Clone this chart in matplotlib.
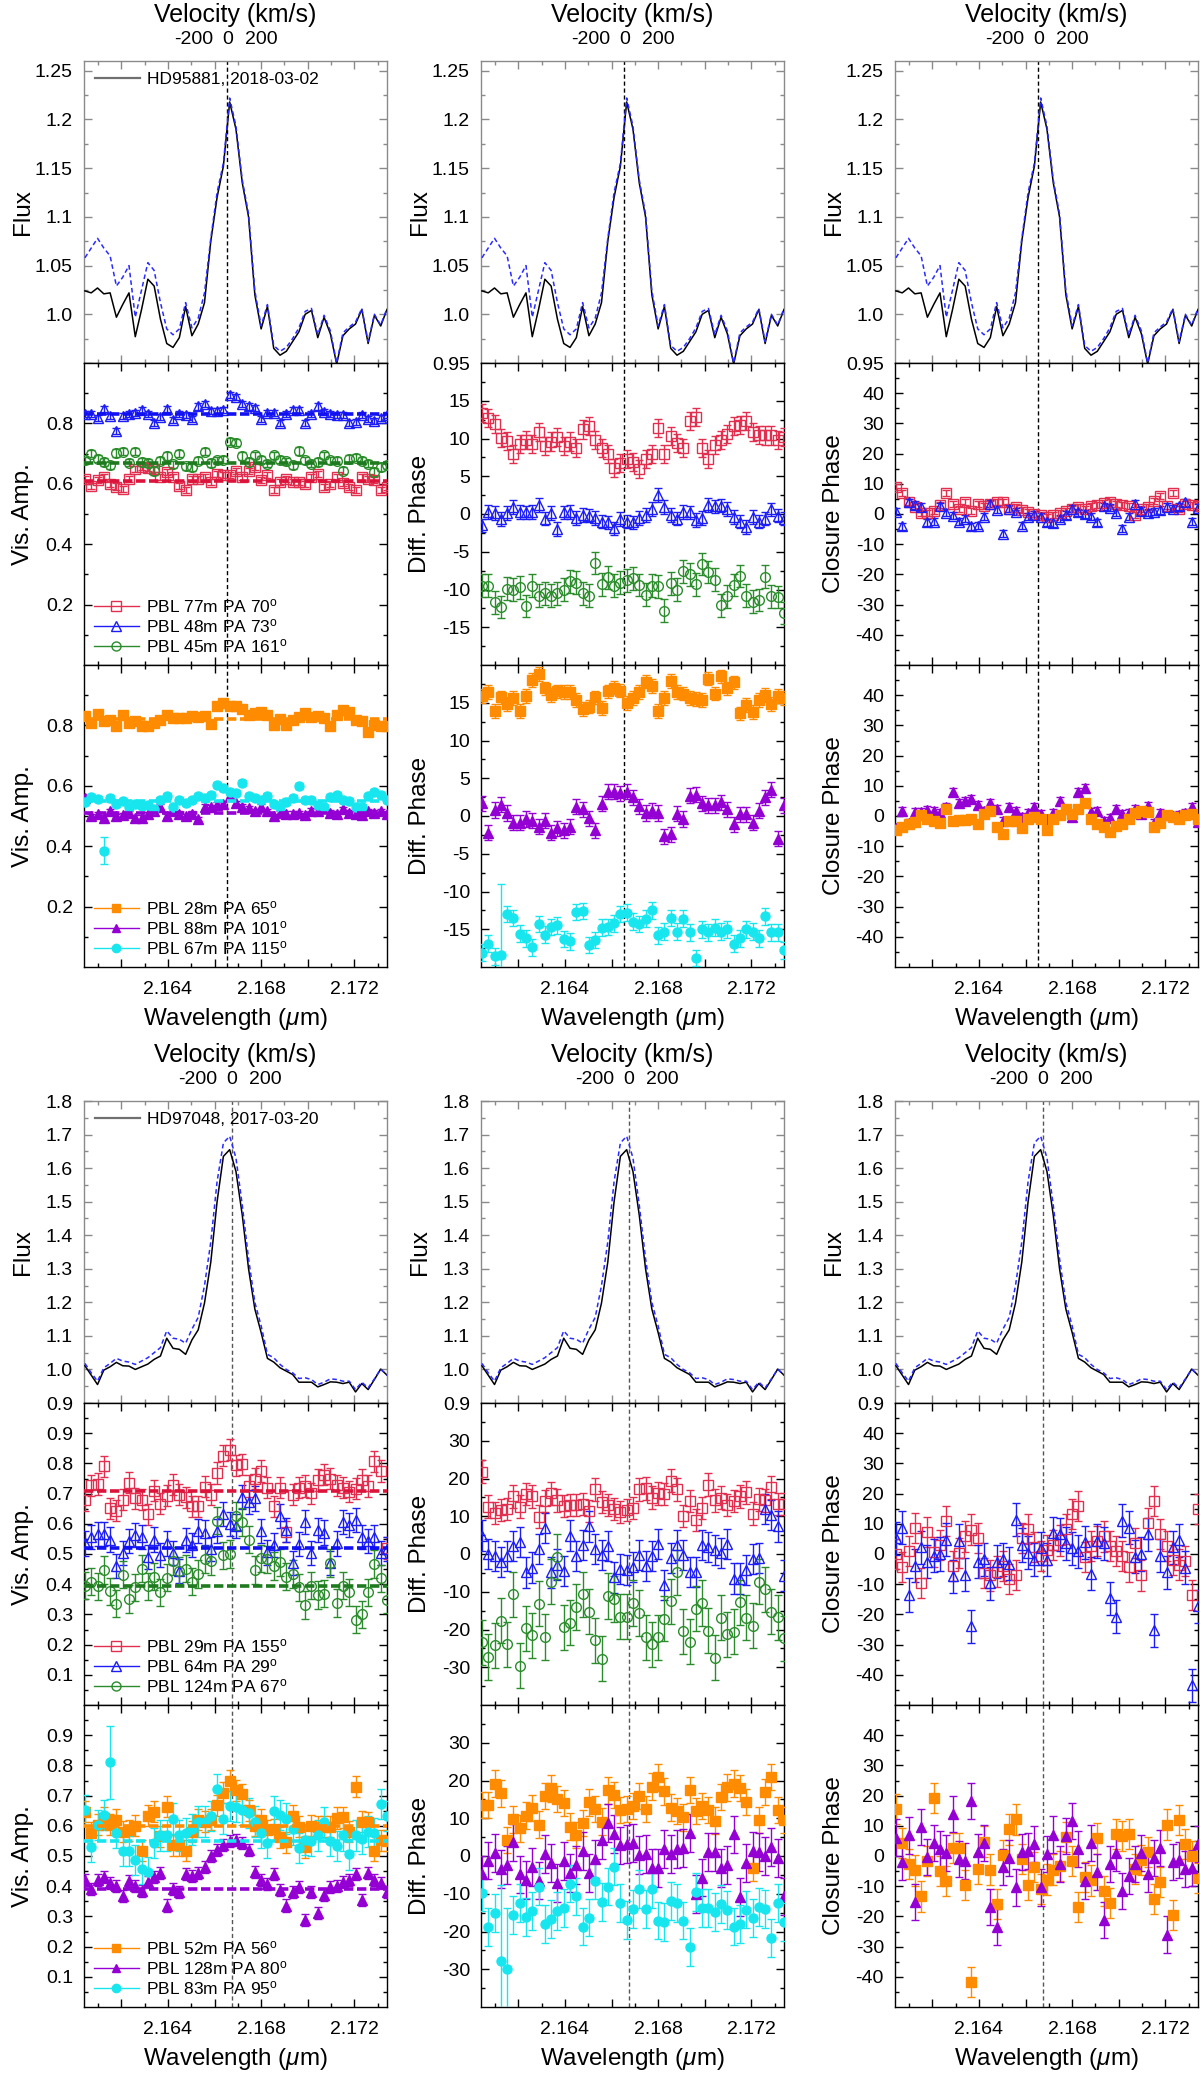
import numpy as np
import matplotlib
matplotlib.use('Agg')
import matplotlib.pyplot as plt
from matplotlib.lines import Line2D

plt.rcParams['font.family'] = ['Liberation Sans', 'DejaVu Sans']
plt.rcParams['mathtext.fontset'] = 'custom'
plt.rcParams['mathtext.rm'] = 'Liberation Sans'
plt.rcParams['mathtext.it'] = 'Liberation Sans:italic'
plt.rcParams['axes.unicode_minus'] = False

C_KMS = 299792.458
N = 49
wave = np.linspace(2.16044, 2.17340, N)   # spectral channels (micron)
LAM0_TOP = 2.16655
LAM0_BOT = 2.16673

# ---------------- HD95881 (top block) ----------------
flux_top_obs = [1.024,1.022,1.027,1.021,1.022,0.997,1.010,1.022,0.977,1.005,
                1.036,1.029,0.995,0.970,0.966,0.976,1.008,0.978,0.990,1.012,
                1.075,1.120,1.152,1.218,1.190,1.135,1.100,1.020,0.985,1.008,
                0.965,0.958,0.962,0.972,0.982,1.000,1.004,0.976,0.997,0.980,
                0.949,0.978,0.985,0.990,1.005,0.970,0.999,0.988,1.005]
flux_top_mod = [1.058,1.068,1.078,1.068,1.060,1.029,1.038,1.050,0.997,1.025,
                1.053,1.045,1.012,0.985,0.979,0.985,1.012,0.986,0.996,1.022,
                1.078,1.125,1.155,1.222,1.193,1.138,1.103,1.024,0.988,1.010,
                0.968,0.962,0.966,0.975,0.986,1.003,1.006,0.979,0.999,0.983,
                0.950,0.981,0.987,0.992,1.006,0.972,1.000,0.989,1.006]

vis_top_red = [0.617,0.594,0.611,0.622,0.600,0.591,0.583,0.617,0.650,0.656,
               0.653,0.650,0.622,0.639,0.622,0.594,0.578,0.617,0.617,0.622,
               0.606,0.633,0.630,0.628,0.642,0.622,0.641,0.656,0.611,0.630,
               0.578,0.606,0.617,0.606,0.606,0.600,0.622,0.633,0.589,0.598,
               0.622,0.602,0.589,0.580,0.622,0.617,0.613,0.580,0.589]
vis_top_blue = [0.831,0.831,0.817,0.847,0.824,0.776,0.824,0.831,0.836,0.844,
                0.831,0.800,0.822,0.847,0.811,0.831,0.828,0.816,0.856,0.863,
                0.842,0.842,0.844,0.894,0.889,0.863,0.856,0.850,0.814,0.833,
                0.836,0.802,0.831,0.844,0.844,0.802,0.831,0.856,0.839,0.831,
                0.828,0.828,0.802,0.806,0.828,0.813,0.809,0.817,0.828]
vis_top_green = [0.678,0.700,0.683,0.672,0.661,0.702,0.706,0.670,0.706,0.672,
                 0.669,0.642,0.676,0.692,0.664,0.700,0.658,0.656,0.676,0.706,
                 0.669,0.678,0.680,0.739,0.736,0.692,0.672,0.694,0.680,0.667,
                 0.694,0.680,0.674,0.661,0.709,0.678,0.667,0.672,0.694,0.678,
                 0.676,0.644,0.683,0.687,0.676,0.667,0.639,0.656,0.661]
vis_top_orange = [0.832,0.808,0.839,0.813,0.817,0.797,0.835,0.808,0.813,0.797,
                  0.799,0.808,0.819,0.835,0.824,0.824,0.824,0.830,0.828,0.832,
                  0.806,0.863,0.874,0.863,0.863,0.854,0.835,0.841,0.844,0.835,
                  0.802,0.821,0.802,0.819,0.828,0.841,0.828,0.830,0.824,0.799,
                  0.835,0.852,0.843,0.819,0.813,0.777,0.802,0.797,0.799]
vis_top_purple = [0.560,0.500,0.506,0.495,0.515,0.500,0.503,0.510,0.495,0.495,
                  0.506,0.515,0.531,0.500,0.515,0.507,0.500,0.507,0.490,0.531,
                  0.530,0.537,0.540,0.565,0.543,0.531,0.525,0.515,0.531,0.515,
                  0.500,0.510,0.507,0.507,0.510,0.503,0.518,0.515,0.525,0.511,
                  0.507,0.522,0.511,0.507,0.503,0.515,0.511,0.515,0.507]
vis_top_cyan = [0.548,0.562,0.556,0.385,0.558,0.539,0.550,0.531,0.540,0.533,
                0.536,0.523,0.553,0.565,0.531,0.553,0.544,0.553,0.565,0.559,
                0.570,0.603,0.592,0.580,0.575,0.609,0.565,0.559,0.553,0.567,
                0.540,0.531,0.548,0.559,0.598,0.553,0.553,0.536,0.531,0.562,
                0.570,0.553,0.550,0.531,0.531,0.565,0.580,0.570,0.553]

dp_top_red = [13.4,12.7,11.9,10.1,9.7,8.0,9.3,9.8,9.3,10.9,
              9.0,9.6,10.2,9.0,9.6,8.8,11.2,11.6,9.8,8.7,
              8.0,6.1,6.8,7.3,6.9,6.0,7.3,8.0,11.4,8.0,
              10.3,9.4,8.7,12.3,12.8,8.8,7.3,9.1,9.8,10.6,
              11.6,11.8,12.3,10.9,10.5,10.4,10.4,9.8,10.2]
dp_top_blue = [-1.5,0.3,0.1,-0.7,0.1,0.9,0.3,0.2,0.3,1.2,
               -0.6,0.1,-2.0,0.2,0.3,-0.5,-0.1,-0.2,-0.5,-1.0,
               -1.1,-1.9,-0.7,-1.0,-1.1,-0.5,-0.1,0.7,2.5,0.9,
               -0.1,-0.6,0.3,0.2,-0.8,-0.5,1.2,1.0,1.1,0.7,
               -0.4,-1.0,-1.7,-0.4,-1.0,-0.6,0.6,-0.2,-0.6]
dp_top_green = [-9.5,-9.5,-11.7,-12.3,-9.9,-10.0,-9.7,-12.2,-9.5,-10.8,
                -10.5,-10.8,-10.5,-10.0,-8.9,-9.1,-10.5,-10.8,-6.5,-9.3,
                -8.4,-9.5,-9.1,-8.8,-8.5,-9.4,-10.7,-9.5,-9.6,-12.8,
                -9.2,-10.0,-7.6,-8.0,-9.3,-6.6,-7.7,-8.7,-12.1,-10.9,
                -9.4,-8.2,-10.8,-11.6,-11.4,-8.3,-10.9,-11.0,-13.1]
dp_top_orange = [15.9,16.4,13.9,15.7,14.8,15.6,13.9,15.9,18.0,18.8,
                 16.9,16.0,16.5,16.4,16.4,15.4,14.2,14.5,15.7,14.3,
                 16.5,17.0,16.6,15.0,15.6,16.4,17.8,17.2,13.9,15.6,
                 17.9,16.4,16.2,15.6,15.5,15.4,18.2,16.2,18.5,16.9,
                 17.7,13.6,14.7,13.8,15.4,16.0,14.8,15.9,15.6]
dp_top_purple = [1.7,-2.2,0.8,1.5,0.4,-0.9,-0.9,-0.4,-0.6,-1.4,
                 -0.6,-2.2,-1.6,-1.9,-1.4,1.2,0.9,-0.3,-1.9,1.6,
                 3.2,3.2,3.0,3.2,2.5,1.3,0.4,0.7,0.4,-2.7,
                 -2.4,0.3,-0.4,2.7,2.8,1.7,1.4,1.4,1.8,0.9,
                 -1.1,0.2,0.2,-0.9,0.7,2.5,3.5,-3.0,1.4]
dp_top_cyan = [-18.1,-16.9,-18.6,-18.4,-13.0,-13.5,-15.6,-16.2,-17.4,-14.3,
               -15.7,-14.7,-14.5,-16.3,-16.6,-12.7,-12.6,-17.1,-16.4,-14.8,
               -14.7,-14.2,-13.0,-12.8,-14.0,-14.3,-13.6,-12.5,-15.8,-15.3,
               -13.5,-15.3,-13.6,-15.4,-18.8,-15.0,-15.4,-14.8,-15.3,-15.0,
               -16.9,-16.2,-15.0,-15.3,-16.2,-13.3,-15.4,-15.4,-17.8]

cp_top_red = [8.8,6.8,4.0,2.3,0.4,0.4,1.0,3.0,6.8,3.4,
              1.7,4.0,1.0,3.4,2.6,3.4,3.9,3.9,1.7,2.3,
              1.3,0.8,0.0,-0.3,-0.9,-0.3,0.4,1.0,1.7,2.3,
              1.7,2.6,3.0,3.6,3.9,3.4,3.0,2.6,-0.3,1.7,
              2.3,4.3,5.9,2.6,6.8,1.7,3.4,3.0,2.6]
cp_top_blue = [0.8,-4.1,3.9,3.0,2.3,-2.8,-2.6,2.6,0.4,-0.5,
               -2.6,-1.5,-4.1,-3.9,-0.9,3.4,1.4,-6.5,1.7,0.8,
               -3.9,-0.9,-0.3,-0.9,-2.8,-3.1,-1.5,-0.3,1.7,0.6,
               0.0,-0.9,-2.8,2.6,2.1,0.4,-4.9,-0.9,3.4,1.0,
               0.4,0.8,1.3,2.3,1.7,2.6,3.9,-2.6,2.1]
cp_top_purple = [-4.1,1.7,-2.2,1.4,1.4,1.9,1.7,1.0,3.0,8.1,
                 4.3,4.9,5.5,3.6,1.7,4.3,2.3,-1.5,3.0,1.7,
                 -0.3,1.0,3.0,0.6,-0.9,1.0,4.9,2.3,-0.3,7.9,
                 9.4,1.4,1.7,-1.5,-0.6,2.3,0.6,1.0,2.3,0.6,
                 3.2,-2.2,1.0,0.4,0.1,0.4,1.0,3.0,-1.9]
cp_top_orange = [-4.8,-3.5,-2.6,-1.9,0.4,-0.9,-1.5,-2.2,2.3,-1.5,
                 -1.3,-1.2,-0.9,-2.5,0.6,1.7,-3.5,-5.8,-1.5,-1.5,
                 -4.1,-0.9,-0.3,-0.9,-4.8,-0.9,0.4,2.3,0.6,2.3,
                 4.3,-0.9,-2.8,-3.5,-5.4,-3.2,-2.8,-0.9,1.0,1.7,
                 1.3,-3.5,-2.2,0.4,-0.3,-0.9,0.4,0.6,-0.9]

# ---------------- HD97048 (bottom block) ----------------
flux_bot_obs = [1.011,0.983,0.955,0.998,1.008,1.021,1.011,1.010,1.000,1.008,
                1.016,1.030,1.040,1.093,1.063,1.060,1.045,1.088,1.118,1.198,
                1.320,1.500,1.635,1.655,1.590,1.460,1.300,1.180,1.110,1.033,
                1.022,1.005,0.995,0.985,0.962,0.962,0.962,0.948,0.955,0.963,
                0.962,0.958,0.962,0.933,0.958,0.940,0.970,1.001,0.983]
flux_bot_mod = [1.018,0.990,0.965,1.005,1.018,1.033,1.025,1.022,1.015,1.025,
                1.035,1.050,1.065,1.115,1.093,1.090,1.078,1.120,1.155,1.250,
                1.380,1.560,1.675,1.695,1.630,1.490,1.330,1.200,1.130,1.045,
                1.035,1.015,1.000,0.990,0.973,0.975,0.970,0.955,0.962,0.972,
                0.970,0.965,0.965,0.940,0.962,0.945,0.972,1.001,0.983]

vis_bot_red = [0.678,0.727,0.732,0.791,0.652,0.643,0.680,0.736,0.684,0.680,
               0.632,0.710,0.667,0.693,0.729,0.697,0.688,0.658,0.658,0.723,
               0.697,0.768,0.826,0.846,0.794,0.797,0.725,0.749,0.775,0.719,
               0.658,0.720,0.574,0.697,0.719,0.725,0.701,0.745,0.762,0.749,
               0.727,0.719,0.706,0.716,0.745,0.725,0.807,0.775,0.520]
vis_bot_blue = [0.535,0.555,0.567,0.567,0.548,0.460,0.503,0.542,0.564,0.555,
                0.490,0.548,0.496,0.535,0.503,0.445,0.545,0.529,0.577,0.571,
                0.516,0.577,0.632,0.600,0.594,0.688,0.671,0.684,0.577,0.505,
                0.529,0.626,0.580,0.470,0.533,0.606,0.503,0.580,0.571,0.470,
                0.535,0.606,0.597,0.613,0.555,0.542,0.555,0.503,0.516]
vis_bot_green = [0.395,0.408,0.393,0.447,0.377,0.335,0.432,0.351,0.390,0.451,
                 0.393,0.425,0.373,0.422,0.477,0.445,0.451,0.408,0.434,0.483,
                 0.477,0.610,0.496,0.500,0.626,0.606,0.548,0.447,0.486,0.483,
                 0.460,0.473,0.425,0.434,0.390,0.331,0.395,0.364,0.369,0.470,
                 0.338,0.395,0.373,0.283,0.300,0.373,0.467,0.419,0.348]
vis_bot_orange = [0.646,0.577,0.603,0.626,0.603,0.620,0.581,0.585,0.600,0.517,
                  0.633,0.646,0.565,0.663,0.536,0.536,0.517,0.581,0.620,0.614,
                  0.620,0.668,0.710,0.749,0.717,0.704,0.652,0.600,0.620,0.585,
                  0.588,0.562,0.546,0.633,0.597,0.530,0.600,0.597,0.597,0.597,
                  0.626,0.628,0.581,0.730,0.614,0.612,0.517,0.552,0.550]
vis_bot_purple = [0.420,0.390,0.420,0.430,0.410,0.400,0.368,0.417,0.400,0.384,
                  0.413,0.430,0.443,0.336,0.390,0.381,0.440,0.433,0.443,0.465,
                  0.500,0.520,0.536,0.549,0.552,0.543,0.520,0.448,0.420,0.407,
                  0.440,0.388,0.336,0.381,0.397,0.289,0.381,0.311,0.371,0.397,
                  0.400,0.413,0.422,0.440,0.355,0.443,0.420,0.410,0.381]
vis_bot_cyan = [0.652,0.530,0.603,0.636,0.810,0.577,0.517,0.517,0.487,0.456,
                0.446,0.543,0.568,0.568,0.624,0.568,0.577,0.588,0.614,0.614,
                0.633,0.723,0.624,0.665,0.662,0.652,0.642,0.614,0.577,0.543,
                0.650,0.636,0.624,0.588,0.526,0.552,0.549,0.568,0.611,0.549,
                0.534,0.568,0.505,0.568,0.555,0.581,0.577,0.672,0.633]

dp_bot_red = [21.8,12.5,10.9,11.7,11.9,15.3,12.5,15.9,15.3,9.9,
              14.0,16.1,14.2,12.7,13.0,13.0,13.2,11.4,17.1,13.8,
              13.0,11.9,11.1,11.7,12.2,17.1,17.4,14.9,16.1,15.9,
              19.4,17.1,10.1,14.0,9.0,12.2,18.4,14.2,14.9,13.0,
              14.0,15.3,16.3,10.7,14.5,14.2,17.7,13.2,13.2]
dp_bot_blue = [4.9,0.0,-0.5,-2.1,-0.5,2.1,3.1,-4.9,-3.6,1.4,
               6.8,-4.9,-2.8,-4.5,4.9,-0.5,2.3,7.3,1.4,-0.3,
               2.1,-6.2,-3.9,-4.2,-3.4,-0.3,-3.1,-0.5,2.6,-8.3,
               -1.0,2.3,-0.3,-4.7,-4.7,2.4,1.8,1.0,0.3,2.6,
               -6.5,-6.5,-4.2,-1.4,-1.0,11.9,10.4,7.3,-5.7]
dp_bot_green = [-23.4,-27.3,-24.2,-17.7,-23.9,-10.7,-29.6,-19.7,-21.5,-13.2,
                -22.0,-7.3,-0.7,-19.4,-18.2,-14.0,-10.7,-15.3,-22.9,-27.7,
                -11.1,-11.9,-16.6,-16.6,-13.0,-15.6,-22.1,-23.9,-22.1,-17.1,
                -12.5,-4.9,-20.5,-23.2,-14.5,-13.0,-20.3,-27.5,-16.9,-21.3,
                -20.6,-12.8,-16.9,-19.0,-7.3,-9.4,-15.3,-16.8,-22.3]
dp_bot_orange = [13.5,13.5,19.2,16.6,4.2,9.7,7.3,10.7,12.7,8.3,
                 15.9,17.9,15.1,14.0,7.8,5.5,8.8,14.2,12.5,9.1,
                 17.4,16.1,12.2,12.5,13.2,15.9,12.5,18.4,20.8,17.1,
                 12.8,11.9,10.2,17.5,11.9,13.2,12.2,9.4,15.6,18.2,
                 19.2,18.0,14.3,-3.1,9.6,16.9,21.0,12.2,9.6]
dp_bot_purple = [-4.9,-1.2,0.8,-3.5,-2.3,3.6,-4.9,-6.4,-2.9,-6.5,
                 0.5,-1.9,-7.1,-1.4,-4.5,-2.4,1.4,-4.5,-0.8,4.2,
                 8.8,5.9,2.8,3.1,3.4,0.3,0.5,-3.1,-3.1,1.9,
                 0.5,1.8,2.1,6.0,-10.1,-5.7,1.0,1.0,-3.1,-2.4,
                 5.7,-10.9,-1.8,1.4,1.0,0.0,2.4,-0.5,-10.7]
dp_bot_cyan = [-9.7,-18.9,-15.1,-27.7,-29.9,-15.6,-12.5,-16.1,-14.5,-8.1,
               -18.0,-16.6,-14.5,-13.8,-7.3,-10.7,-18.7,-16.3,-6.5,-12.2,
               -8.1,-2.8,-12.5,-16.9,-14.0,-8.8,-14.0,-8.8,-17.1,-17.5,
               -11.9,-12.5,-17.1,-24.1,-9.5,-13.8,-13.8,-14.9,-12.7,-14.3,
               -18.7,-18.0,-14.2,-16.4,-13.5,-14.0,-21.8,-12.5,-17.5]

cp_bot_red = [0.0,-4.3,0.9,8.7,-9.7,7.4,0.6,3.0,10.8,-3.9,
              0.3,5.8,8.1,5.2,-6.2,-7.1,-5.8,-3.9,-8.2,-6.9,
              5.2,8.2,2.2,-0.6,1.3,2.9,4.5,8.2,13.2,16.0,
              -1.0,2.6,4.3,5.8,2.6,1.0,-0.6,-4.3,3.6,-7.1,
              10.1,17.5,6.5,2.6,-1.9,-3.5,-2.2,-13.6,14.9]
cp_bot_blue = [5.2,8.7,-13.6,-3.9,2.2,-2.6,-0.6,0.0,4.8,-7.4,
               4.3,-6.9,-24.0,-2.6,-1.7,-9.7,-2.6,-1.7,-3.2,11.3,
               3.0,0.4,-1.9,1.9,-1.9,6.9,6.5,3.5,1.9,0.9,
               3.9,-6.5,4.3,3.5,-14.7,-20.8,11.0,8.7,-0.9,0.0,
               6.5,-25.3,-0.6,-6.1,2.2,4.5,-4.5,-43.5,-17.3]
cp_bot_orange = [15.6,4.2,-2.6,-4.8,-13.4,-1.7,19.1,-4.9,-8.4,2.6,
                 2.6,-9.5,-41.6,-4.2,4.8,-4.5,-15.8,0.3,8.8,12.1,
                 -1.0,-9.5,-3.6,-10.8,-7.8,-4.5,-3.2,6.2,-1.7,-16.9,
                 -6.9,-8.1,5.8,-11.7,-15.6,7.4,6.5,7.4,-4.3,-1.3,
                 1.3,-14.3,-8.7,10.4,-19.5,11.9,3.9,0.0,-7.4]
cp_bot_purple = [6.1,-1.9,6.8,-15.2,9.5,-0.4,4.2,2.2,0.9,13.9,
                 -0.9,-1.7,18.2,1.3,4.2,-16.9,-23.4,-3.6,-0.6,-10.4,
                 1.3,1.6,3.9,-10.4,0.6,7.1,-2.6,6.5,11.7,2.2,
                 -8.4,4.2,-5.2,-21.2,-2.6,0.9,-11.7,-6.5,-2.6,0.9,
                 -5.8,-0.6,2.6,-26.0,-1.9,-1.3,-4.3,-3.9,3.9]

# mean visibility levels (dashed lines)
mean_top = {'red': 0.61, 'blue': 0.83, 'green': 0.67, 'orange': 0.82, 'purple': 0.51, 'cyan': 0.55}
mean_bot = {'red': 0.71, 'blue': 0.52, 'green': 0.395, 'orange': 0.60, 'purple': 0.39, 'cyan': 0.55}

legend_top2 = ['PBL 77m PA 70', 'PBL 48m PA 73', 'PBL 45m PA 161']
legend_top3 = ['PBL 28m PA 65', 'PBL 88m PA 101', 'PBL 67m PA 115']
legend_bot2 = ['PBL 29m PA 155', 'PBL 64m PA 29', 'PBL 124m PA 67']
legend_bot3 = ['PBL 52m PA 56', 'PBL 128m PA 80', 'PBL 83m PA 95']

def err(base, overrides=None):
    e = np.full(N, float(base))
    if overrides:
        for k, v in overrides.items():
            e[k] = v
    return e

COL = {'red': '#e32f4f', 'blue': '#1c1cf5', 'green': '#2b8c2b',
       'orange': '#ff8c00', 'purple': '#9400d3', 'cyan': '#18e6ee'}
MEANCOL = {'red': '#dc143c', 'blue': '#1010f0', 'green': '#1f7a1f',
           'orange': '#ff8c00', 'purple': '#9400d3', 'cyan': '#18e6ee'}
STYLE = {'red': ('s', False, 7), 'blue': ('^', False, 7.5), 'green': ('o', False, 7),
         'orange': ('s', True, 6.5), 'purple': ('^', True, 6.5), 'cyan': ('o', True, 6.5)}

# ---------------- layout ----------------
FIG_W, FIG_H = 1200, 2075
COL_X = [84, 481, 895]
AX_W, AX_H = 303, 302
ROW_TOPS = [[61, 363, 665], [1101, 1403, 1705]]

fig = plt.figure(figsize=(FIG_W / 100, FIG_H / 100), dpi=100)

XLIM = (2.1604, 2.1734)
XMAJOR = [2.162, 2.164, 2.166, 2.168, 2.170, 2.172]
XLABELS = ['', '2.164', '', '2.168', '', '2.172']
XMINOR = [2.161, 2.163, 2.165, 2.167, 2.169, 2.171, 2.173]
TICKFS = 14
LABFS = 17.5
GRAY = '#8a8a8a'


def make_ax(col, top):
    return fig.add_axes([COL_X[col] / FIG_W, 1 - (top + AX_H) / FIG_H,
                         AX_W / FIG_W, AX_H / FIG_H])


def setup(ax, ylim, major, labels, minor, xlabels, ylabel):
    ax.set_xlim(XLIM)
    ax.set_xticks(XMAJOR)
    ax.set_xticklabels(XLABELS if xlabels else [''] * len(XMAJOR))
    ax.set_xticks(XMINOR, minor=True)
    ax.set_ylim(ylim)
    ax.set_yticks(major)
    ax.set_yticklabels(labels)
    ax.set_yticks(minor, minor=True)
    ax.tick_params(which='both', direction='in', top=True, right=True,
                   labelsize=TICKFS)
    ax.tick_params(which='major', length=5.5, width=1.0)
    ax.tick_params(which='minor', length=3, width=1.0)
    ax.tick_params(axis='y', pad=8)
    ax.tick_params(axis='x', pad=10)
    ax.set_ylabel(ylabel, fontsize=LABFS)
    ax.yaxis.set_label_coords(-0.165, 0.5)
    for s in ax.spines.values():
        s.set_linewidth(1.0)
    if xlabels:
        ax.set_xlabel(r'Wavelength ($\mu$m)', fontsize=LABFS, labelpad=6)


def fmt(v):
    s = ('%.2f' % v).rstrip('0')
    if s.endswith('.'):
        s += '0'
    return s


def plot_pts(ax, y, e, key):
    m, filled, ms = STYLE[key]
    c = COL[key]
    ax.errorbar(wave, y, yerr=e, fmt=m, color=c, mec=c,
                mfc=c if filled else 'none', ms=ms, mew=1.0,
                elinewidth=1.0, capsize=3.2, capthick=1.0, zorder=3)


def vis_legend(ax, keys, labels):
    handles = []
    for k in keys:
        m, filled, ms = STYLE[k]
        handles.append(Line2D([], [], color=COL[k], marker=m, ms=ms - 0.5, lw=1.0,
                              mfc=COL[k] if filled else 'none', mec=COL[k]))
    labs = [l + r'$^{\rm o}$' for l in labels]
    ax.legend(handles, labs, loc='lower left', frameon=False, fontsize=12.5,
              handlelength=2.6, handletextpad=0.4, labelspacing=0.12,
              borderaxespad=0.25, borderpad=0.3)


blocks = [
    dict(tops=ROW_TOPS[0], lam0=LAM0_TOP, vline='#000000',
         flux=(flux_top_obs, flux_top_mod), flux_name='HD95881, 2018-03-02',
         flux_ylim=(0.95, 1.26), flux_major=[0.95, 1.0, 1.05, 1.1, 1.15, 1.2, 1.25],
         flux_minor=[0.975, 1.025, 1.075, 1.125, 1.175, 1.225], hide_low_col1=True,
         vis_major=[0.2, 0.4, 0.6, 0.8], vis_minor=[0.1, 0.3, 0.5, 0.7, 0.9],
         vis2=[(vis_top_red, err(0.010), 'red'), (vis_top_blue, err(0.010), 'blue'),
               (vis_top_green, err(0.012), 'green')],
         vis3=[(vis_top_orange, err(0.008), 'orange'), (vis_top_purple, err(0.008), 'purple'),
               (vis_top_cyan, err(0.010, {3: 0.045}), 'cyan')],
         leg2=legend_top2, leg3=legend_top3, means=mean_top,
         dp_ylim=(-20, 20), dp_major=[-15, -10, -5, 0, 5, 10, 15],
         dp_minor=[-17.5, -12.5, -7.5, -2.5, 2.5, 7.5, 12.5, 17.5],
         dp2=[(dp_top_red, err(1.2), 'red'), (dp_top_blue, err(0.9), 'blue'),
              (dp_top_green, err(1.5), 'green')],
         dp3=[(dp_top_orange, err(0.9), 'orange'), (dp_top_purple, err(1.0), 'purple'),
              (dp_top_cyan, err(1.1, {3: 9.4}), 'cyan')],
         cp2=[(cp_top_red, err(1.0), 'red'), (cp_top_blue, err(1.2), 'blue')],
         cp3=[(cp_top_purple, err(1.3), 'purple'), (cp_top_orange, err(1.0), 'orange')]),
    dict(tops=ROW_TOPS[1], lam0=LAM0_BOT, vline='#555555',
         flux=(flux_bot_obs, flux_bot_mod), flux_name='HD97048, 2017-03-20',
         flux_ylim=(0.9, 1.8), flux_major=[0.9, 1.0, 1.1, 1.2, 1.3, 1.4, 1.5, 1.6, 1.7, 1.8],
         flux_minor=[0.95, 1.05, 1.15, 1.25, 1.35, 1.45, 1.55, 1.65, 1.75], hide_low_col1=False,
         vis_major=[0.1, 0.2, 0.3, 0.4, 0.5, 0.6, 0.7, 0.8, 0.9],
         vis_minor=[0.05, 0.15, 0.25, 0.35, 0.45, 0.55, 0.65, 0.75, 0.85, 0.95],
         vis2=[(vis_bot_red, err(0.035), 'red'), (vis_bot_blue, err(0.04), 'blue'),
               (vis_bot_green, err(0.045), 'green')],
         vis3=[(vis_bot_orange, err(0.035), 'orange'), (vis_bot_purple, err(0.02), 'purple'),
               (vis_bot_cyan, err(0.05, {4: 0.12}), 'cyan')],
         leg2=legend_bot2, leg3=legend_bot3, means=mean_bot,
         dp_ylim=(-40, 40), dp_major=[-30, -20, -10, 0, 10, 20, 30],
         dp_minor=[-35, -25, -15, -5, 5, 15, 25, 35],
         dp2=[(dp_bot_red, err(3.0), 'red'), (dp_bot_blue, err(4.0), 'blue'),
              (dp_bot_green, err(6.0), 'green')],
         dp3=[(dp_bot_orange, err(3.5), 'orange'), (dp_bot_purple, err(5.0), 'purple'),
              (dp_bot_cyan, err(5.0, {3: 20.0, 4: 16.0}), 'cyan')],
         cp2=[(cp_bot_red, err(5.0), 'red'), (cp_bot_blue, err(5.5), 'blue')],
         cp3=[(cp_bot_orange, err(5.0), 'orange'), (cp_bot_purple, err(6.0), 'purple')]),
]

CP_MAJOR = [-40, -30, -20, -10, 0, 10, 20, 30, 40]
CP_MINOR = [-45, -35, -25, -15, -5, 5, 15, 25, 35, 45]

for b in blocks:
    lam0 = b['lam0']
    fwd = lambda l, lam0=lam0: (l - lam0) / lam0 * C_KMS
    inv = lambda v, lam0=lam0: lam0 * (1 + v / C_KMS)
    for col in range(3):
        # ---- flux panel ----
        ax = make_ax(col, b['tops'][0])
        labels = [fmt(v) for v in b['flux_major']]
        if col == 0 and b['hide_low_col1']:
            labels[0] = ''
        setup(ax, b['flux_ylim'], b['flux_major'], labels, b['flux_minor'], False, 'Flux')
        for side in ['left', 'right', 'top']:
            ax.spines[side].set_color(GRAY)
        ax.tick_params(which='both', color=GRAY)
        ax.plot(wave, b['flux'][0], color='k', lw=1.1, zorder=3)
        ax.plot(wave, b['flux'][1], color='#2a2aff', lw=1.1, ls=(0, (3, 2)), zorder=4)
        ax.axvline(lam0, color=b['vline'], lw=1.0, ls=(0, (3, 2)), zorder=2)
        if col == 0:
            h = Line2D([], [], color='#707070', lw=1.6)
            ax.legend([h], [b['flux_name']], loc='upper left', frameon=False,
                      fontsize=12.5, handlelength=2.6, handletextpad=0.4,
                      borderaxespad=0.3, borderpad=0.35)
        sec = ax.secondary_xaxis('top', functions=(fwd, inv))
        sec.set_xticks([-200, 0, 200])
        sec.set_xticklabels(['-200', '0', '200'])
        sec.tick_params(length=0, labelsize=TICKFS, pad=9)
        sec.spines['top'].set_visible(False)
        sec.set_xlabel('Velocity (km/s)', fontsize=LABFS + 0.5, labelpad=7)

        # ---- rows 2 and 3 ----
        for r, (vkey, dkey, ckey, lkey) in enumerate([('vis2', 'dp2', 'cp2', 'leg2'),
                                                      ('vis3', 'dp3', 'cp3', 'leg3')]):
            ax = make_ax(col, b['tops'][r + 1])
            xl = (r == 1)
            if col == 0:
                setup(ax, (0, 1.0), b['vis_major'], [fmt(v) for v in b['vis_major']],
                      b['vis_minor'], xl, 'Vis. Amp.')
                for y, e, k in b[vkey]:
                    plot_pts(ax, y, e, k)
                for y, e, k in b[vkey]:
                    ax.axhline(b['means'][k], color=MEANCOL[k], lw=2.6,
                               ls=(0, (2.6, 1.0)), zorder=4)
                vis_legend(ax, [k for _, _, k in b[vkey]], b[lkey])
            elif col == 1:
                setup(ax, b['dp_ylim'], b['dp_major'], [str(v) for v in b['dp_major']],
                      b['dp_minor'], xl, 'Diff. Phase')
                for y, e, k in b[dkey]:
                    plot_pts(ax, y, e, k)
            else:
                setup(ax, (-50, 50), CP_MAJOR, [str(v) for v in CP_MAJOR],
                      CP_MINOR, xl, 'Closure Phase')
                for y, e, k in b[ckey]:
                    plot_pts(ax, y, e, k)
            ax.axvline(lam0, color=b['vline'], lw=1.0, ls=(0, (3, 2)), zorder=2)

fig.savefig('out.png', dpi=100)
